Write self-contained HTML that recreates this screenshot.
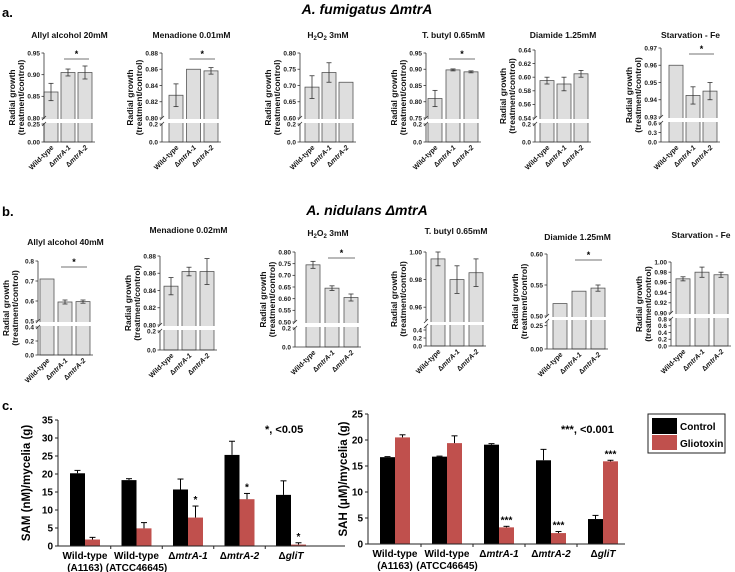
<!DOCTYPE html>
<html><head><meta charset="utf-8"><style>
html,body{margin:0;padding:0;background:#fff;}
svg{display:block;font-family:"Liberation Sans",Arial,sans-serif;}
</style></head><body>
<svg id="fig" width="735" height="572" viewBox="0 0 735 572" xmlns="http://www.w3.org/2000/svg">
<text x="2" y="17" font-size="13" font-weight="bold">a.</text>
<text x="367" y="14" font-size="14" font-weight="bold" font-style="italic" text-anchor="middle">A. fumigatus ΔmtrA</text>
<text x="2" y="216" font-size="13" font-weight="bold">b.</text>
<text x="367" y="215" font-size="14" font-weight="bold" font-style="italic" text-anchor="middle">A. nidulans ΔmtrA</text>
<text x="2" y="410" font-size="13" font-weight="bold">c.</text>
</svg>
<script>
const strains = ["Wild-type","ΔmtrA-1","ΔmtrA-2"];
const rowATitles = ["Allyl alcohol 20mM","Menadione 0.01mM","H2O2 3mM","T. butyl 0.65mM","Diamide 1.25mM","Starvation - Fe"];
const rowAValues = [[0.86,0.905,0.905],[0.828,0.86,0.858],[0.695,0.74,0.71],[0.81,0.898,0.892],[0.595,0.59,0.605],[0.96,0.9425,0.945]];
const rowAErrors = [[0.02,0.008,0.015],[0.014,0,0.004],[0.035,0.03,0],[0.025,0.003,0.003],[0.005,0.01,0.005],[0,0.005,0.005]];
const rowASig = [true,true,false,true,false,true];
const rowAUpper = [[0.80,0.95],[0.80,0.88],[0.60,0.80],[0.75,0.95],[0.54,0.64],[0.93,0.97]];
const rowAUpperTicks = [[0.80,0.85,0.90,0.95],[0.80,0.82,0.84,0.86,0.88],[0.60,0.65,0.70,0.75,0.80],[0.75,0.80,0.85,0.90,0.95],[0.54,0.56,0.58,0.60,0.62,0.64],[0.93,0.94,0.95,0.96,0.97]];
const rowALower = [0.25,0.2,0.2,0.2,0.2,0.6];
const rowALowerTicks = [[0,0.25],[0,0.2],[0,0.2],[0,0.2],[0,0.2],[0,0.3,0.6]];
const rowBTitles = ["Allyl alcohol 40mM","Menadione 0.02mM","H2O2 3mM","T. butyl 0.65mM","Diamide 1.25mM","Starvation - Fe"];
const rowBValues = [[0.71,0.595,0.597],[0.845,0.862,0.862],[0.745,0.645,0.605],[0.995,0.98,0.985],[0.52,0.54,0.545],[0.967,0.98,0.975]];
const rowBErrors = [[0,0.01,0.008],[0.01,0.005,0.015],[0.015,0.01,0.015],[0.005,0.01,0.01],[0,0,0.005],[0.004,0.01,0.005]];
const rowBSig = [true,false,true,false,true,false];
const rowBUpper = [[0.5,0.8],[0.80,0.88],[0.50,0.80],[0.95,1.00],[0.50,0.60],[0.90,1.00]];
const rowBUpperTicks = [[0.5,0.6,0.7,0.8],[0.80,0.82,0.84,0.86,0.88],[0.50,0.55,0.60,0.65,0.70,0.75,0.80],[0.96,0.98,1.00],[0.50,0.55,0.60],[0.90,0.92,0.94,0.96,0.98,1.00]];
const rowBLower = [0.4,0.2,0.2,0.5,0.3,0.8];
const rowBLowerTicks = [[0,0.2,0.4],[0,0.2],[0,0.2],[0,0.2,0.4],[0,0.25],[0,0.2,0.4,0.6,0.8]];
const rowALayout = [[44,7,17,53,118,124,142],[162,14,17.5,53,118,124,142],[300,12,17,53,118,124,142],[426,9,18,53,118,124,142],[535,12,17,50,118,124,142],[661,15,17,48,117,123,142]];
const rowBLayout = [[38,9,18,261,321,327,355],[160,11,18,256,325,331,350],[295,18,19,252,322,328,347],[426,12,19,252,321,326,346],[547,13,19,254,316,321,349],[671,12,19,262,313,319,346]];
const rowATitleY = [38,38,38,38,38,38];
const rowBTitleY = [245,233,236,234,240,238];

const cGroups = ["Wild-type|(A1163)","Wild-type|(ATCC46645)","ΔmtrA-1","ΔmtrA-2","ΔgliT"];
const samCtrl = [20.2,18.3,15.7,25.3,14.2];
const samCtrlErr = [0.8,0.4,2.9,3.8,3.9];
const samGlio = [1.8,4.9,7.9,13.0,0.4];
const samGlioErr = [0.6,1.6,3.2,1.6,0.5];
const samStars = ["","","*","*","*"];
const samTicks = [0,5,10,15,20,25,30,35];
const sahCtrl = [16.7,16.8,19.1,16.1,4.8];
const sahCtrlErr = [0.1,0.1,0.2,2.1,0.7];
const sahGlio = [20.5,19.4,3.2,2.1,15.9];
const sahGlioErr = [0.5,1.4,0.2,0.3,0.2];
const sahStars = ["","","***","***","***"];
const sahTicks = [0,5,10,15,20,25];

const svg = document.getElementById('fig');
const NS = 'http://www.w3.org/2000/svg';
function mk(tag, attrs, parent){
  const e = document.createElementNS(NS, tag);
  for (const k in attrs) e.setAttribute(k, attrs[k]);
  (parent||svg).appendChild(e);
  return e;
}

function panel(pid, title, titleY, vals, errs, sig, upper, uTicks, lMax, lTicks, L){
  const [ax,bo,sp,yTop,yU0,yL1,y0] = L;
  const g = mk('g',{});
  
  
  const y = v => v >= upper[0] ? yU0 - (v-upper[0])/(upper[1]-upper[0])*(yU0-yTop) : y0 - v/lMax*(y0-yL1);
  const xc = i => ax + bo + i*sp;
  const xEnd = xc(2) + 10;
  const bw = 14;
  vals.forEach((v,i)=>{
    const r = mk('rect',{x:xc(i)-bw/2,y:y(v),width:bw,height:y0-y(v),fill:'#dedede',stroke:'#555','stroke-width':0.8},g);
    
    
    const e = errs[i];
    if (e>0){
      mk('line',{x1:xc(i),x2:xc(i),y1:y(v+e),y2:y(v-e),stroke:'#333','stroke-width':0.8},g);
      mk('line',{x1:xc(i)-2.5,x2:xc(i)+2.5,y1:y(v+e),y2:y(v+e),stroke:'#333','stroke-width':0.8},g);
      mk('line',{x1:xc(i)-2.5,x2:xc(i)+2.5,y1:y(v-e),y2:y(v-e),stroke:'#333','stroke-width':0.8},g);
    }
  });
  mk('rect',{x:ax-3,y:yU0+1,width:xEnd-ax+4,height:yL1-yU0-2,fill:'#fff'},g);
  mk('line',{x1:ax,x2:ax,y1:yTop,y2:yU0,stroke:'#333','stroke-width':0.8},g);
  mk('line',{x1:ax,x2:ax,y1:yL1,y2:y0,stroke:'#333','stroke-width':0.8},g);
  mk('line',{x1:ax-2,x2:ax+2,y1:yU0+2,y2:yU0-2,stroke:'#333','stroke-width':0.8},g);
  mk('line',{x1:ax-2,x2:ax+2,y1:yL1+2,y2:yL1-2,stroke:'#333','stroke-width':0.8},g);
  mk('line',{x1:ax,x2:xEnd,y1:y0,y2:y0,stroke:'#333','stroke-width':0.8},g);
  uTicks.forEach(t=>{
    mk('line',{x1:ax-2.5,x2:ax,y1:y(t),y2:y(t),stroke:'#333','stroke-width':0.8},g);
    const tx = mk('text',{x:ax-4,y:y(t)+2.3,'font-size':6.5,'font-weight':'bold','text-anchor':'end',fill:'#222'},g);
    tx.textContent = (uTicks.some(u=>Math.round(u*100)%10!==0)) ? t.toFixed(2) : t.toFixed(1);
  });
  lTicks.forEach(t=>{
    mk('line',{x1:ax-2.5,x2:ax,y1:y(t),y2:y(t),stroke:'#333','stroke-width':0.8},g);
    const tx = mk('text',{x:ax-4,y:y(t)+2.3,'font-size':6.5,'font-weight':'bold','text-anchor':'end',fill:'#222'},g);
    tx.textContent = (lTicks.some(u=>Math.round(u*100)%10!==0)) ? t.toFixed(2) : t.toFixed(1);
  });
  const cx = (ax + xEnd)/2;
  const tt = mk('text',{x:cx,y:titleY,'font-size':8.5,'font-weight':'bold','text-anchor':'middle',fill:'#111'},g);
  
  
  if (title.startsWith('H2O2')){
    tt.innerHTML = 'H<tspan font-size="6" dy="2">2</tspan><tspan dy="-2">O</tspan><tspan font-size="6" dy="2">2</tspan><tspan dy="-2"> 3mM</tspan>';
  } else tt.textContent = title;
  const my = (yTop+y0)/2;
  const yl = mk('text',{transform:`translate(${ax-29},${my}) rotate(-90)`,'font-size':8.5,'font-weight':'bold','text-anchor':'middle',fill:'#111'},g);
  
  
  yl.innerHTML = `<tspan x="0" dy="0">Radial growth</tspan><tspan x="0" dy="9">(treatment/control)</tspan>`;
  strains.forEach((s,i)=>{
    const xl = mk('text',{transform:`translate(${xc(i)+3},${y0+6}) rotate(-45)`,'font-size':7,'font-weight':'bold','text-anchor':'end',fill:'#111'},g);
    
    
    if (s.startsWith('Δ')) xl.innerHTML = 'Δ<tspan font-style="italic">'+s.slice(1)+'</tspan>';
    else xl.textContent = s;
  });
  if (sig){
    mk('line',{x1:xc(1)-4,x2:xc(2)+4,y1:yTop+6,y2:yTop+6,stroke:'#444','stroke-width':0.8},g);
    const st = mk('text',{x:(xc(1)+xc(2))/2,y:yTop+4,'font-size':9,'font-weight':'bold','text-anchor':'middle'},g);
    
    
    st.textContent = '*';
  }
}
for (let i=0;i<6;i++){
  panel('panel-a-'+(i+1), rowATitles[i], rowATitleY[i], rowAValues[i], rowAErrors[i], rowASig[i], rowAUpper[i], rowAUpperTicks[i], rowALower[i], rowALowerTicks[i], rowALayout[i]);
  panel('panel-b-'+(i+1), rowBTitles[i], rowBTitleY[i], rowBValues[i], rowBErrors[i], rowBSig[i], rowBUpper[i], rowBUpperTicks[i], rowBLower[i], rowBLowerTicks[i], rowBLayout[i]);
}

function grouped(pid, ax, yTopPx, y0, maxV, ticks, ctrl, cErr, glio, gErr, stars, firstBoundary, spacing, endX, yTitle, titleX){
  const g = mk('g',{});
  
  
  const y = v => y0 - v/maxV*(y0-yTopPx);
  const bw = 15;
  ticks.forEach(t=>{
    mk('line',{x1:ax-3,x2:ax,y1:y(t),y2:y(t),stroke:'#222','stroke-width':1},g);
    const tx = mk('text',{x:ax-5,y:y(t)+3.5,'font-size':10,'font-weight':'bold','text-anchor':'end'},g);
    tx.textContent = t;
  });
  ctrl.forEach((v,i)=>{
    const b = firstBoundary + i*spacing;
    const r1 = mk('rect',{x:b-bw,y:y(v),width:bw,height:y0-y(v),fill:'#000'},g);
    
    
    const r2 = mk('rect',{x:b,y:y(glio[i]),width:bw,height:y0-y(glio[i]),fill:'#c0504d'},g);
    
    
    const cx1 = b-bw/2, cx2 = b+bw/2;
    mk('line',{x1:cx1,x2:cx1,y1:y(v),y2:y(v+cErr[i]),stroke:'#000','stroke-width':1},g);
    mk('line',{x1:cx1-3,x2:cx1+3,y1:y(v+cErr[i]),y2:y(v+cErr[i]),stroke:'#000','stroke-width':1},g);
    mk('line',{x1:cx2,x2:cx2,y1:y(glio[i]),y2:y(glio[i]+gErr[i]),stroke:'#000','stroke-width':1},g);
    mk('line',{x1:cx2-3,x2:cx2+3,y1:y(glio[i]+gErr[i]),y2:y(glio[i]+gErr[i]),stroke:'#000','stroke-width':1},g);
    if (stars[i]){
      const st = mk('text',{x:cx2,y:y(glio[i]+gErr[i])-3,'font-size':10,'font-weight':'bold','text-anchor':'middle'},g);
      
      
      st.textContent = stars[i];
    }
    const parts = cGroups[i].split('|');
    const l1 = mk('text',{x:b,y:y0+13,'font-size':10,'font-weight':'bold','text-anchor':'middle'},g);
    
    
    if (parts[0].startsWith('Δ')) l1.innerHTML = 'Δ<tspan font-style="italic">'+parts[0].slice(1)+'</tspan>';
    else l1.textContent = parts[0];
    if (parts[1]){
      const l2 = mk('text',{x:b,y:y0+25,'font-size':10,'font-weight':'bold','text-anchor':'middle'},g);
      l2.textContent = parts[1];
    }
    if (i>0) mk('line',{x1:b-spacing/2,x2:b-spacing/2,y1:y0,y2:y0+3,stroke:'#222','stroke-width':1},g);
  });
  mk('line',{x1:ax,x2:ax,y1:yTopPx,y2:y0,stroke:'#222','stroke-width':1},g);
  mk('line',{x1:ax,x2:endX,y1:y0,y2:y0,stroke:'#222','stroke-width':1},g);
  const t = mk('text',{transform:`translate(${titleX},${(yTopPx+y0)/2}) rotate(-90)`,'font-size':11.5,'font-weight':'bold','text-anchor':'middle'},g);
  
  
  t.textContent = yTitle;
}
grouped('sam-chart', 58, 420, 546, 35, samTicks, samCtrl, samCtrlErr, samGlio, samGlioErr, samStars, 85, 51.5, 345, 'SAM (nM)/mycelia (g)', 30);
grouped('sah-chart', 368, 414, 544, 25, sahTicks, sahCtrl, sahCtrlErr, sahGlio, sahGlioErr, sahStars, 395, 52, 625, 'SAH (μM)/mycelia (g)', 347);
</script>
<svg style="position:absolute;left:0;top:0" width="735" height="572">
<text x="265" y="433" font-size="11" font-weight="bold" font-family="Liberation Sans, sans-serif">*, &lt;0.05</text>
<text x="561" y="433" font-size="11" font-weight="bold" font-family="Liberation Sans, sans-serif">***, &lt;0.001</text>
<g>
<rect x="648" y="414" width="77" height="39" fill="#fff" stroke="#222" stroke-width="1"/>
<rect x="652" y="418" width="25" height="16" fill="#000"/>
<rect x="652" y="435" width="25" height="15" fill="#c0504d"/>
<text x="680" y="430" font-size="10" font-weight="bold" font-family="Liberation Sans, sans-serif">Control</text>
<text x="680" y="447" font-size="10" font-weight="bold" font-family="Liberation Sans, sans-serif">Gliotoxin</text>
</g>
</svg>
</body></html>
